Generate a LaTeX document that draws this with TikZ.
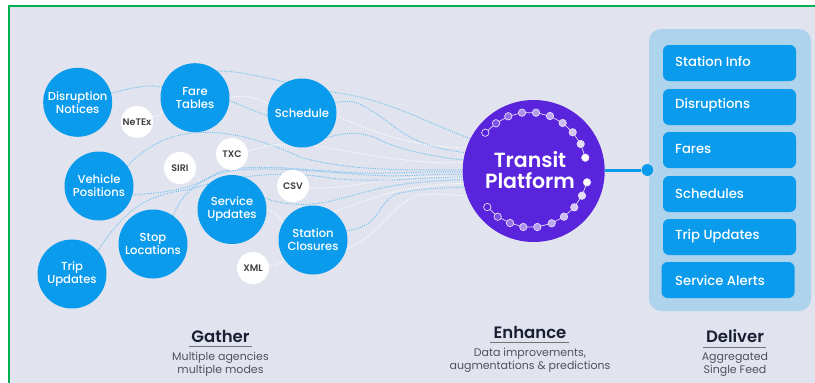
\documentclass[tikz,border=0pt]{standalone}
\usepackage{fontspec}
\setmainfont{Poppins}
\newfontfamily\medf{Poppins Medium}
\newfontfamily\semf{Poppins SemiBold}
\usetikzlibrary{backgrounds}
\definecolor{bgc}{HTML}{E1E4EE}
\definecolor{bluec}{HTML}{0B9BED}
\definecolor{panelc}{HTML}{AED3EC}
\definecolor{purp}{HTML}{5A24DC}
\definecolor{greenc}{HTML}{00B050}
\definecolor{dotblue}{HTML}{6FBFEE}
\definecolor{titlec}{HTML}{1A1E33}
\definecolor{subc}{HTML}{50535F}
\tikzset{
  topic/.style={circle,fill=bluec,minimum size=69pt,inner sep=0pt,align=center,text=white,font=\medf\fontsize{11.6}{13}\selectfont},
  fmt/.style={circle,fill=white,minimum size=32pt,inner sep=0pt,text=black!75,font=\semf\fontsize{9.5}{10}\selectfont},
  feed/.style={rectangle,rounded corners=6pt,fill=bluec,minimum width=133pt,minimum height=36pt,inner sep=0pt},
  feedlabel/.style={anchor=west,inner sep=0pt,text=white,font=\medf\fontsize{13.2}{14}\selectfont},
  head/.style={inner sep=0pt,text=titlec,font=\semf\fontsize{16.5}{18}\selectfont},
  rulec/.style={draw=black!55,line width=1pt},
  subt/.style={inner sep=0pt,align=center,text=subc,font=\fontsize{11}{13}\selectfont},
  bdot/.style={draw=dotblue,line width=1pt,dash pattern=on 1pt off 1.3pt},
  wdot/.style={draw=white,line width=1pt,dash pattern=on 1pt off 1.3pt},
  pdot/.style={draw=white!85!purp,line width=0.7pt},
}
\begin{document}
\begin{tikzpicture}[x=1pt,y=-1pt]
\useasboundingbox (0,0) rectangle (815,383);
% topics
\node[topic] (disr) at (77.7,102.3) {Disruption\\Notices};
\node[topic] (fare) at (195,97.7) {Fare\\Tables};
\node[topic] (sched) at (302,113) {Schedule};
\node[topic] (veh) at (99,186) {Vehicle\\Positions};
\node[topic] (trip) at (72,274) {Trip\\Updates};
\node[topic] (stop) at (153,244) {Stop\\Locations};
\node[topic] (serv) at (232,209.5) {Service\\Updates};
\node[topic] (stat) at (313,240) {Station\\Closures};
% formats
\node[fmt] (netex) at (137,122) {NeTEx};
\node[fmt] (siri) at (180,168) {SIRI};
\node[fmt] (txc) at (232,154) {TXC};
\node[fmt] (csv) at (293,186) {CSV};
\node[fmt] (xml) at (253,268) {XML};
% platform
\node[circle,fill=purp,minimum size=142pt,inner sep=0pt] (plat) at (533.7,171) {};
\fill[bgc] (466,128) -- (474,132) -- (468,135) -- cycle;
\fill[bgc] (461,201) -- (469,203) -- (464,207) -- cycle;
\node[inner sep=0pt,align=center,text=white,font=\semf\fontsize{20.5}{20.5}\selectfont] (platlabel) at (530,170) {Transit\\Platform};
% ring of dots
\draw[white!85!purp,line width=0.7pt] (485.3,132.7)--(496,123.3)--(508.3,116.3)--(522,112.7)--(536,112.7)--(550,116)--(562.7,123)--(572.7,132.3)--(580.7,144)--(585.3,157.7);
\draw[white!85!purp,line width=0.7pt] (587,182.3)--(582,195.7)--(574.3,207.3)--(564,216.7)--(551.7,223.3)--(537.3,227)--(523.3,227)--(510,223)--(497.7,216.7)--(487.3,207);
\foreach \px/\py/\op in {485.3/132.7/0,496/123.3/0.2,508.3/116.3/0.35,522/112.7/0.5,536/112.7/0.55,550/116/0.6,562.7/123/0.7,572.7/132.3/0.75,580.7/144/0.85,585.3/157.7/1,
587/182.3/1,582/195.7/0.85,574.3/207.3/0.75,564/216.7/0.7,551.7/223.3/0.6,537.3/227/0.55,523.3/227/0.5,510/223/0.35,497.7/216.7/0.2,487.3/207/0}{
  \fill[purp] (\px,\py) circle (3.7pt);
  \fill[white,opacity=\op] (\px,\py) circle (3.7pt);
  \draw[pdot] (\px,\py) circle (3.7pt);
}
% deliver panel
\begin{scope}[on background layer]
\fill[white] (0,0) rectangle (815,383);
\fill[bgc] (9,6) rectangle (815,383);
\draw[greenc,line width=2pt] (9,383) -- (9,6) -- (815,6);
\fill[panelc,rounded corners=12pt] (649,29) rectangle (811,311);
\end{scope}
\node[feed] (f1) at (729.5,63) {};
\node[feed] (f2) at (729.5,107) {};
\node[feed] (f3) at (729.5,150) {};
\node[feed] (f4) at (729.5,194) {};
\node[feed] (f5) at (729.5,237) {};
\node[feed] (f6) at (728,280) {};
\node[feedlabel] (l1) at (675,61.5) {Station Info};
\node[feedlabel] (l2) at (675,105.5) {Disruptions};
\node[feedlabel] (l3) at (675,148.5) {Fares};
\node[feedlabel] (l4) at (675,193.5) {Schedules};
\node[feedlabel] (l5) at (675,236) {Trip Updates};
\node[feedlabel] (l6) at (675,280.5) {Service Alerts};
% output connector
\node[circle,fill=bluec,draw=bgc,line width=0.8pt,minimum size=13pt,inner sep=0pt] (hub) at (647.5,170) {};
\draw[bluec,line width=3pt] (plat.east |- hub) -- (hub);
% captions
\node[head] (gather) at (220.5,336) {Gather};
\draw[rulec] (189,346.3) -- (252,346.3);
\node[subt] (gathersub) at (220.5,364.5) {Multiple agencies\\multiple modes};
\node[head] (enhance) at (530,332.5) {Enhance};
\draw[rulec] (490,342) -- (569,342);
\node[subt] (enhancesub) at (530,360.5) {Data improvements,\\augmentations \& predictions};
\node[head] (deliver) at (735,336) {Deliver};
\draw[rulec] (703,347) -- (766,347);
\node[subt] (deliversub) at (735,364.5) {Aggregated\\Single Feed};
% connectors
\begin{scope}[on background layer]
\draw[bdot] (disr.15) .. controls (130,88) and (148,84) .. (fare.162);
\draw[wdot] (netex.20) .. controls (160,116) .. (fare.200);
\draw[wdot] (fare.0) .. controls (240,95) and (255,96) .. (sched.165);
\draw[bdot] (fare.50) .. controls (245,70) and (290,85) .. (332,92) .. controls (390,100) and (420,120) .. (plat.153);
\draw[bdot] (fare.355) .. controls (250,108) and (290,130) .. (sched.center) .. controls (322,105) and (345,98) .. (357,103) .. controls (395,120) and (400,145) .. (plat.165);
\draw[wdot] (sched.355) .. controls (380,135) and (420,148) .. (plat.161);
\draw[bdot] (sched.315) .. controls (345,133) and (360,130) .. (380,140) .. controls (400,150) and (440,158) .. (plat.171);
\draw[wdot] (sched.290) .. controls (370,155) and (420,165) .. (plat.173.5);
\draw[bdot] (veh.35) .. controls (170,120) and (230,125) .. (300,157) .. controls (350,172) and (420,170) .. (plat.179);
\draw[wdot] (txc.10) .. controls (265,146) and (275,143) .. (sched.250);
\draw[wdot] (siri.335) -- (serv.140);
\draw[bdot] (veh.345) .. controls (170,192) and (190,190) .. (217,173) .. controls (250,162) and (300,170) .. (330,171) .. controls (380,176) and (430,170) .. (plat.181);
\draw[bdot] (stop.55) .. controls (180,198) and (195,180) .. (225,172) .. controls (260,165) and (320,172) .. (370,175) .. controls (410,178) and (440,172) .. (plat.183);
\draw[bdot] (trip.42) .. controls (125,210) and (145,195) .. (187,190) .. controls (220,180) and (270,168) .. (330,178) .. controls (380,184) and (430,176) .. (plat.185);
\draw[wdot] (csv.355) .. controls (340,190) and (380,180) .. (400,178) .. controls (430,176) and (450,176) .. (plat.186);
\draw[bdot] (serv.20) .. controls (280,205) and (310,207) .. (335,200) .. controls (375,190) and (390,182) .. (plat.187);
\draw[wdot] (serv.0) .. controls (275,212) .. (stat.150);
\draw[wdot] (stat.55) .. controls (360,205) and (390,185) .. (plat.190);
\draw[bdot] (stat.15) .. controls (385,225) and (375,200) .. (400,193) .. controls (425,188) and (445,188) .. (plat.193);
\draw[wdot] (stat.345) .. controls (385,232) and (395,200) .. (420,195) .. controls (440,193) and (455,196) .. (plat.200);
\draw[wdot] (xml.10) .. controls (275,266) .. (stat.215);
\end{scope}
\end{tikzpicture}
\end{document}
